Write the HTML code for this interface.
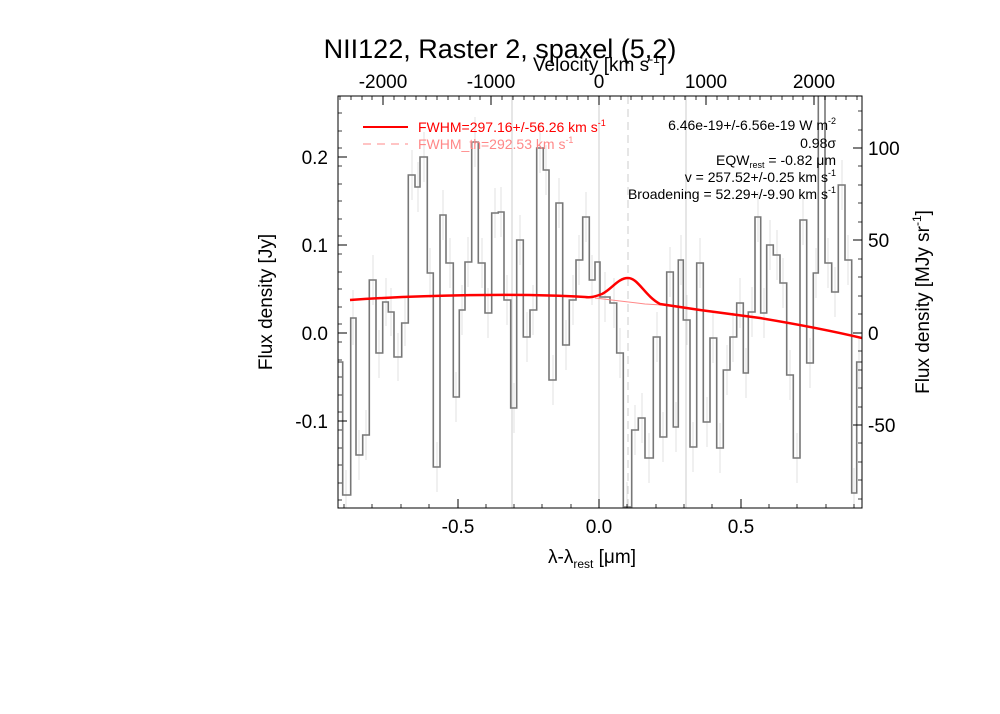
<!DOCTYPE html>
<html><head><style>body{margin:0;background:#fff}svg{display:block}</style></head><body>
<svg width="1000" height="714" xmlns="http://www.w3.org/2000/svg" font-family="Liberation Sans, sans-serif">
<rect width="1000" height="714" fill="#fff"/>
<defs><clipPath id="c"><rect x="338" y="96" width="524" height="412"/></clipPath></defs>
<g clip-path="url(#c)">
<g stroke="#ccc" stroke-width="1">
<line x1="512" y1="96" x2="512" y2="508"/><line x1="599" y1="96" x2="599" y2="508"/><line x1="686" y1="96" x2="686" y2="508"/>
<line x1="628" y1="96" x2="628" y2="508" stroke-dasharray="8,5"/>
</g>
<g stroke="#e2e2e2" stroke-width="1">
<path d="M346,470V520M353,290V345M359,430V480M366,410V460M373,255V305M379,330V378M386,278V326M391,288V336M398,333V381M405,298V346M412,150V200M418,162V212M424,132V182M430,248V298M437,442V492M443,190V240M450,238V288M456,372V422M462,285V335M468,237V287M475,117V167M482,238V288M488,288V338M495,188V238M501,187V237M507,275V325M514,383V433M520,215V265M527,312V362M533,285V335M540,123V173M546,145V195M553,355V405M559,178V228M566,320V370M573,275V325M579,235V285M586,192V242M592,255V305M605,272V322M614,278V328M620,328V378M627,482V532M635,405V455M642,393V443M649,433V483M657,312V362M663,412V462M670,247V297M676,402V452M681,235V285M687,295V345M693,422V472M700,238V288M707,397V447M713,313V363M720,423V473M727,345V395M733,312V362M740,278V328M746,348V398M752,287V337M758,192V242M764,288V338M770,220V270M777,230V280M783,258V308M790,350V400M797,433V483M803,195V245M810,338V388M816,248V298M828,238V288M835,267V317M842,160V210M848,235V285M854,468V518M859,337V387"/>
</g>
<path fill="none" stroke="#777" stroke-width="1.6" d="M338,362H342.7V495H350.7V318H356V455H362.7V435H369.3V280H376V353H382.7V302H388.3V312H394V357H401.7V323H408.3V175H415V187H420V157H427.3V273H433.3V467H440V215H446V263H453.3V397H459.3V310H465V262H471.7V142H478.3V263H485V313H491.7V213H498.3V212H504V300H510.7V408H516.7V240H523.3V337H530V310H536.7V148H543.3V170H549V380H556V203H562.7V345H569.3V300H576V260H582.7V217H589.3V280H595V262H600V297H610V303H616.7V353H623.3V507H631.7V430H638.3V418H645V458H653.3V337H660V437H666.7V272H673.3V427H678.3V260H683.3V320H690V447H696.7V263H703.3V422H710V338H716.7V448H723.3V370H730V337H736.7V303H743.3V373H748.3V312H755V217H760.7V313H766.7V245H773.3V255H780V283H786.7V375H793.3V458H800V220H806.7V363H813.3V273H818.3V80H825V263H831.7V292H838.3V185H845V260H851.7V493H856.7V362H862"/>
<path fill="none" stroke="#f88" stroke-width="1" d="M595,298 L620,301 L645,304 L662,305"/>
<path fill="none" stroke="#f00" stroke-width="2.5" d="M350,300 C420,295 520,293 585,297 C592,298 596,296 602,294 C612,289 618,278 628,278 C638,278 645,296 660,304 L700,310 L760,318 Q820,328 862,338"/>
</g>
<rect x="338" y="96" width="524" height="412" fill="none" stroke="#000" stroke-width="1"/>
<g stroke="#000" stroke-width="1">
<path d="M458,508v-9M599,508v-9M741,508v-9M383,96v9M491,96v9M599,96v9M706,96v9M814,96v9M338,157h9M338,245h9M338,333h9M338,421h9M862,148h-9M862,240h-9M862,333h-9M862,425h-9"/>
</g>
<g stroke="#000" stroke-width="0.8">
<line x1="345.8" y1="508" x2="862" y2="508" stroke-dasharray="1,27.3" stroke-dashoffset="0" transform="translate(0,-4)" style="display:none"/>
<path d="M344,508v-4M372,508v-4M401,508v-4M429,508v-4M486,508v-4M514,508v-4M542,508v-4M571,508v-4M627,508v-4M656,508v-4M684,508v-4M712,508v-4M769,508v-4M797,508v-4M826,508v-4M854,508v-4"/>
<path d="M340,96v4M351,96v4M362,96v4M372,96v4M394,96v4M405,96v4M416,96v4M426,96v4M437,96v4M448,96v4M459,96v4M470,96v4M480,96v4M502,96v4M513,96v4M524,96v4M534,96v4M545,96v4M556,96v4M567,96v4M578,96v4M588,96v4M610,96v4M621,96v4M631,96v4M642,96v4M653,96v4M664,96v4M674,96v4M685,96v4M696,96v4M717,96v4M728,96v4M739,96v4M750,96v4M760,96v4M771,96v4M782,96v4M793,96v4M803,96v4M825,96v4M836,96v4M846,96v4M857,96v4"/>
<path d="M338,113h4M338,131h4M338,148h4M338,166h4M338,184h4M338,201h4M338,219h4M338,236h4M338,254h4M338,272h4M338,289h4M338,307h4M338,324h4M338,342h4M338,360h4M338,377h4M338,395h4M338,412h4M338,430h4M338,448h4M338,465h4M338,483h4M338,500h4"/>
<path d="M862,111h-4M862,130h-4M862,166h-4M862,185h-4M862,203h-4M862,222h-4M862,259h-4M862,277h-4M862,296h-4M862,314h-4M862,351h-4M862,370h-4M862,388h-4M862,407h-4M862,443h-4M862,462h-4M862,480h-4M862,499h-4"/>
</g>
<g font-size="19" fill="#000">
<text x="500" y="58" text-anchor="middle" font-size="27">NII122, Raster 2, spaxel (5,2)</text>
<text x="599" y="71" text-anchor="middle">Velocity [km s<tspan font-size="12" dy="-8">-1</tspan><tspan dy="8">]</tspan></text>
<text x="383" y="88" text-anchor="middle">-2000</text><text x="491" y="88" text-anchor="middle">-1000</text><text x="599" y="88" text-anchor="middle">0</text><text x="706" y="88" text-anchor="middle">1000</text><text x="814" y="88" text-anchor="middle">2000</text>
<text x="458" y="533" text-anchor="middle">-0.5</text><text x="599" y="533" text-anchor="middle">0.0</text><text x="741" y="533" text-anchor="middle">0.5</text>
<text x="592" y="563" text-anchor="middle">λ-λ<tspan font-size="12" dy="5">rest</tspan><tspan dy="-5"> [μm]</tspan></text>
<text x="328" y="164" text-anchor="end">0.2</text><text x="328" y="252" text-anchor="end">0.1</text><text x="328" y="340" text-anchor="end">0.0</text><text x="328" y="428" text-anchor="end">-0.1</text>
<text x="868" y="155">100</text><text x="868" y="247">50</text><text x="868" y="340">0</text><text x="868" y="432">-50</text>
<text transform="translate(272,302) rotate(-90)" text-anchor="middle">Flux density [Jy]</text>
<text transform="translate(929,302) rotate(-90)" text-anchor="middle">Flux density [MJy sr<tspan font-size="12" dy="-8">-1</tspan><tspan dy="8">]</tspan></text>
</g>
<g font-size="14">
<line x1="363" y1="127" x2="408" y2="127" stroke="#f00" stroke-width="2"/>
<line x1="363" y1="144" x2="408" y2="144" stroke="#f88" stroke-width="1" stroke-dasharray="8,6"/>
<text x="418" y="132" fill="#f00">FWHM=297.16+/-56.26 km s<tspan font-size="9" dy="-6">-1</tspan></text>
<text x="418" y="149" fill="#f88">FWHM_th=292.53 km s<tspan font-size="9" dy="-6">-1</tspan></text>
<g text-anchor="end" fill="#000">
<text x="836" y="130">6.46e-19+/-6.56e-19 W m<tspan font-size="9" dy="-6">-2</tspan></text>
<text x="836" y="148">0.98σ</text>
<text x="836" y="165">EQW<tspan font-size="9" dy="3">rest</tspan><tspan dy="-3"> = -0.82 μm</tspan></text>
<text x="836" y="182">v = 257.52+/-0.25 km s<tspan font-size="9" dy="-6">-1</tspan></text>
<text x="836" y="199">Broadening = 52.29+/-9.90 km s<tspan font-size="9" dy="-6">-1</tspan></text>
</g></g>
</svg>
</body></html>
